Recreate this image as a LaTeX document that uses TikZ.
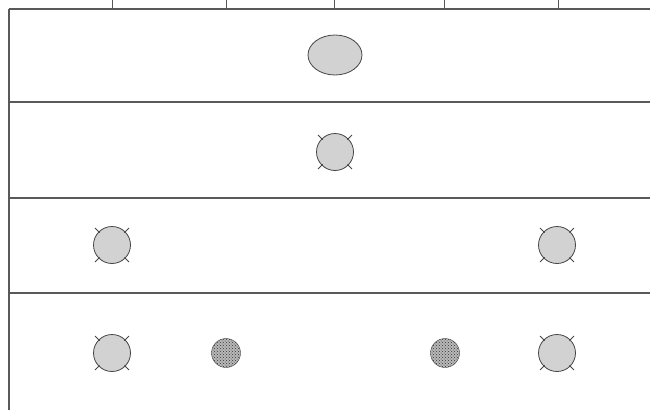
\documentclass[tikz,border=0pt]{standalone}
\usetikzlibrary{patterns,shapes.geometric}
\begin{document}
\begin{tikzpicture}[x=1pt,y=-1pt,
        row line/.style={draw=gray!70!black, line width=1.3pt},
        member/.style={circle, draw=gray!55!black, fill=gray!35, line width=0.8pt, minimum size=37pt, inner sep=0pt},
        dense/.style={circle, draw=gray!50!black, preaction={fill=gray!55}, pattern=crosshatch dots, pattern color=gray!40!black, minimum size=29pt, inner sep=0pt},
        corner/.style={draw=gray!55!black, line width=1pt}]
    \useasboundingbox (0,0) rectangle (650,410);
    \foreach \y in {9,102,198,293}
        {\draw[row line] (9,\y) -- (650,\y);}
    \draw[row line] (9,9) -- (9,410);
    \foreach \x in {112,226,334,444,558}
        {\draw[draw=gray!70!black, line width=1pt] (\x,0) -- (\x,9);}

    \node[member, ellipse, minimum width=54pt, minimum height=40pt] (root) at (335,55) {};
    \foreach \n/\x/\y in {mid/335/152, lefta/112/245, righta/557/245, leftb/112/353, rightb/557/353}
        {
            \node[member] (\n) at (\x,\y) {};
            \foreach \a in {45,135,225,315}
                {\draw[corner] ([shift={(\a:17.5pt)}]\n.center) -- ([shift={(\a:24pt)}]\n.center);}
        }
    \node[dense] (innera) at (226,353) {};
    \node[dense] (innerb) at (445,353) {};
\end{tikzpicture}
\end{document}
